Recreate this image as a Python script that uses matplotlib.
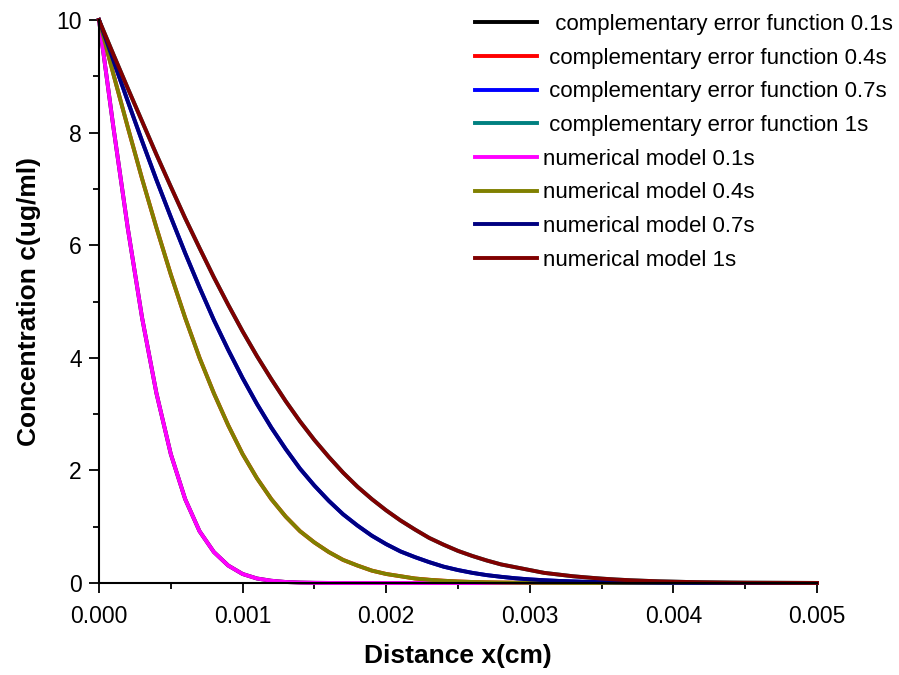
import matplotlib
matplotlib.use("Agg")
import matplotlib.pyplot as plt
from matplotlib.ticker import MultipleLocator, FormatStrFormatter

plt.rcParams['font.family'] = ['Liberation Sans', 'DejaVu Sans']

# distance samples (cm), every 0.0001
x = [i * 0.0001 for i in range(51)]

# concentration (ug/ml)
c_01 = [10.0, 8.10, 6.31, 4.71, 3.37, 2.29, 1.49, 0.92, 0.55, 0.31,
        0.16, 0.08, 0.04, 0.018, 0.008, 0.003, 0.001] + [0.0] * 34
c_04 = [10.0, 9.04, 8.10, 7.18, 6.31, 5.48, 4.71, 4.00, 3.37, 2.80,
        2.29, 1.86, 1.49, 1.18, 0.92, 0.72, 0.55, 0.41, 0.31, 0.22,
        0.16, 0.12, 0.08, 0.057, 0.040, 0.027, 0.018, 0.012, 0.008, 0.005,
        0.003, 0.002, 0.001] + [0.0] * 18
c_07 = [10.0, 9.28, 8.56, 7.85, 7.16, 6.50, 5.86, 5.25, 4.67, 4.14,
        3.64, 3.18, 2.76, 2.38, 2.03, 1.73, 1.46, 1.22, 1.02, 0.84,
        0.69, 0.56, 0.46, 0.37, 0.29, 0.23, 0.18, 0.14, 0.11, 0.084,
        0.064, 0.049, 0.037, 0.028, 0.020, 0.015, 0.011, 0.008, 0.006, 0.004,
        0.003, 0.002, 0.001, 0.001] + [0.0] * 7
c_1 = [10.0, 9.39, 8.79, 8.20, 7.61, 7.04, 6.48, 5.95, 5.43, 4.94,
       4.47, 4.03, 3.62, 3.23, 2.87, 2.54, 2.24, 1.96, 1.71, 1.49,
       1.29, 1.11, 0.95, 0.80, 0.68, 0.57, 0.48, 0.40, 0.33, 0.28,
       0.23, 0.18, 0.15, 0.12, 0.098, 0.078, 0.062, 0.049, 0.039, 0.030,
       0.024, 0.018, 0.014, 0.011, 0.008, 0.006, 0.005, 0.004, 0.003, 0.002,
       0.001]

erfc_series = [c_01, c_04, c_07, c_1]
num_series = [c_01, c_04, c_07, c_1]
erfc_labels = ['  complementary error function 0.1s', ' complementary error function 0.4s',
               ' complementary error function 0.7s', ' complementary error function 1s']
num_labels = ['numerical model 0.1s', 'numerical model 0.4s',
              'numerical model 0.7s', 'numerical model 1s']
erfc_colors = ['#000000', '#ff0000', '#0000ff', '#008080']
num_colors = ['#ff00ff', '#808000', '#000080', '#800000']

fig = plt.figure(figsize=(8.99, 6.75), dpi=100)
ax = fig.add_axes([99 / 899, 1 - 583 / 675, 718 / 899, 563 / 675])

for c, lab, col in zip(erfc_series, erfc_labels, erfc_colors):
    ax.plot(x, c, color=col, lw=2.8, label=lab, clip_on=False)
for c, lab, col in zip(num_series, num_labels, num_colors):
    ax.plot(x, c, color=col, lw=2.8, label=lab, clip_on=False)

ax.set_xlim(0, 0.005)
ax.set_ylim(0, 10)
ax.xaxis.set_major_locator(MultipleLocator(0.001))
ax.xaxis.set_minor_locator(MultipleLocator(0.0005))
ax.xaxis.set_major_formatter(FormatStrFormatter('%.3f'))
ax.yaxis.set_major_locator(MultipleLocator(2))
ax.yaxis.set_minor_locator(MultipleLocator(1))

for s in ['top', 'right']:
    ax.spines[s].set_visible(False)
for s in ['left', 'bottom']:
    ax.spines[s].set_linewidth(1.5)
ax.tick_params(which='major', direction='out', length=7.5, width=1.3, labelsize=16.5)
ax.tick_params(axis='x', which='major', pad=8)
ax.tick_params(axis='y', which='major', pad=5)
ax.tick_params(which='minor', direction='out', length=4, width=1.3)

ax.set_xlabel('Distance x(cm)', fontsize=19, fontweight='bold', labelpad=12)
ax.set_ylabel('Concentration c(ug/ml)', fontsize=19, fontweight='bold', labelpad=11)

ax.legend(loc='upper left', bbox_to_anchor=(475 / 899, 1 - 14 / 675),
          bbox_transform=fig.transFigure, frameon=False, fontsize=16,
          handlelength=2.8, handletextpad=0.27, labelspacing=0.57,
          borderpad=0, borderaxespad=0)

fig.savefig('out.png', dpi=100)
